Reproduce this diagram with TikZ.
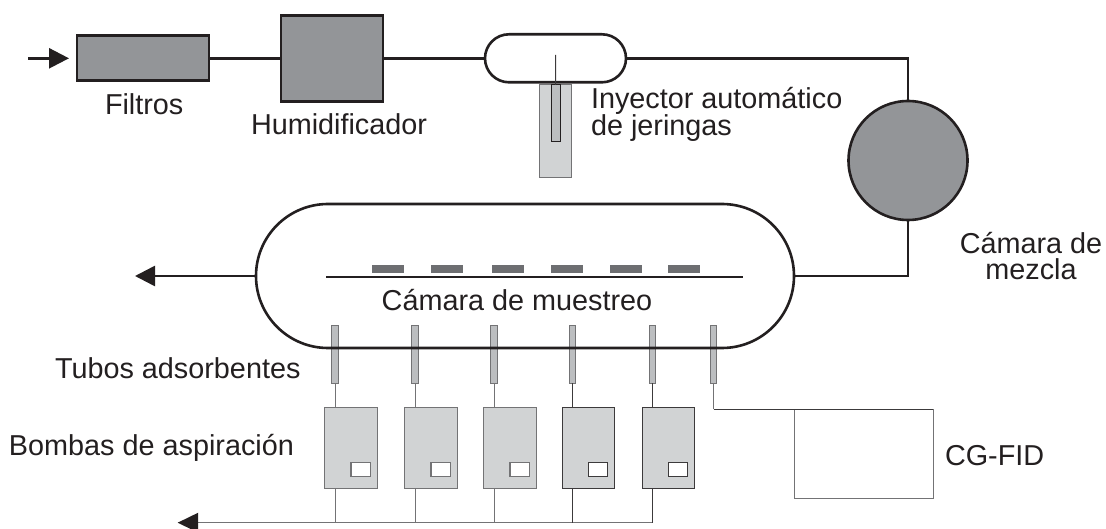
\documentclass[tikz,border=0pt]{standalone}
\usepackage{fontspec}
\setmainfont{Liberation Sans}
\usetikzlibrary{arrows.meta,shapes.misc,calc}
\definecolor{ink}{RGB}{35,31,32}
\definecolor{midgray}{RGB}{147,149,152}
\definecolor{lightgray2}{RGB}{209,211,212}
\definecolor{tubegray}{RGB}{188,190,192}
\definecolor{stripgray}{RGB}{109,110,113}
\definecolor{softline}{RGB}{115,115,117}
\definecolor{darkline}{RGB}{60,58,59}
\tikzset{
  every node/.style={inner sep=0pt,outer sep=0pt},
  lab/.style={anchor=base west,text=ink,font=\fontsize{28.8}{32}\selectfont},
  labc/.style={anchor=base,text=ink,font=\fontsize{28.8}{32}\selectfont},
  heavybox/.style={draw=ink,line width=2.6pt,fill=midgray,rectangle},
  pipe/.style={draw=ink,line width=2.6pt},
  flowarrow/.style={pipe,-{Triangle[length=20pt,width=20pt]}},
  capsule/.style={draw=ink,line width=2.6pt,rounded rectangle},
  strip/.style={fill=stripgray,rectangle,minimum width=32pt,minimum height=8pt},
  tube/.style={draw=softline,line width=1pt,fill=tubegray,rectangle,minimum width=6.4pt,minimum height=57.6pt},
  pump/.style={draw=softline,line width=1.1pt,fill=lightgray2,rectangle,minimum width=52.5pt,minimum height=81pt},
  pumpdark/.style={pump,draw=darkline},
  window/.style={draw=softline,line width=1.1pt,fill=white,rectangle,minimum width=19.3pt,minimum height=14.3pt},
  windowdark/.style={window,draw=darkline},
  thin/.style={draw=softline,line width=1pt},
  thindark/.style={draw=darkline,line width=1pt},
}
\begin{document}
\begin{tikzpicture}[x=1pt,y=-1pt]
\useasboundingbox (0,0) rectangle (1106,529);
% top row
\coordinate (inlet) at (28,58.3);
\node[heavybox,minimum width=132pt,minimum height=45pt] (filter) at (143,58.3) {};
\node[heavybox,minimum width=102pt,minimum height=86pt] (humid) at (332,58.3) {};
\node[capsule,minimum width=141pt,minimum height=48pt] (mixcap) at (555.5,58.3) {};
\node[draw=softline,line width=1pt,fill=lightgray2,rectangle,minimum width=32pt,minimum height=93pt] (syr) at (555.5,131.5) {};
\node[draw=ink,line width=1pt,fill=tubegray,rectangle,minimum width=9pt,minimum height=57pt] (plunger) at (555.5,113.5) {};
\coordinate (needle) at (555.7,55);
\draw[thindark] (needle) -- (plunger.north);
\draw[flowarrow] (inlet) -- ($(filter.west)+(-8,0)$);
\draw[pipe] (filter) -- (humid);
\draw[pipe] (humid.east) -- (mixcap.west);
% mix chamber
\node[heavybox,circle,minimum size=119pt] (mix) at (908,160.5) {};
\draw[pipe] (mixcap.east) -| (mix.north);
% sampling chamber tubes
\foreach \i/\x in {1/335,2/415,3/494,4/572.2,5/652.2,6/713.5}
  \node[tube] (tube\i) at (\x,354.5) {};
\node[capsule,minimum width=538pt,minimum height=144pt] (chamber) at (525,276) {};
\draw[pipe] (chamber.east) -| (mix.south);
\coordinate (outlet) at (135,276);
\draw[flowarrow] (chamber.west) -- (outlet);
\coordinate (plateL) at (326,277);
\coordinate (plateR) at (743,277);
\draw[pipe] (plateL) -- (plateR);
\foreach \i/\x in {1/388,2/447,3/508,4/567,5/626,6/684}
  \node[strip] (strip\i) at (\x,269) {};
% pumps
\node[pump] (pump1) at (351,447.8) {};
\node[pump] (pump2) at (431,447.8) {};
\node[pump] (pump3) at (510,447.8) {};
\node[pumpdark] (pump4) at (588.3,447.8) {};
\node[pumpdark] (pump5) at (668.5,447.8) {};
\node[window] (win1) at (360.6,469.2) {};
\node[window] (win2) at (440.6,469.2) {};
\node[window] (win3) at (519.6,469.2) {};
\node[windowdark] (win4) at (598,469.2) {};
\node[windowdark] (win5) at (678,469.2) {};
\foreach \i in {1,2,3}
  \draw[thin] (tube\i.south) -- (tube\i.south |- pump\i.north);
\foreach \i in {4,5}
  \draw[thindark] (tube\i.south) -- (tube\i.south |- pump\i.north);
% bus
\coordinate (busR) at (653,522.7);
\coordinate (busout) at (177.7,522.7);
\draw[thin] (busR) -- (busout);
\fill[ink] (busout) -- ++(20.5,-10) -- ++(0,20) -- cycle;
\foreach \i in {1,2,3}
  \draw[thin] (tube\i.south |- pump\i.south) -- (tube\i.south |- busR);
\foreach \i in {4,5}
  \draw[thindark] (tube\i.south |- pump\i.south) -- (tube\i.south |- busR);
% GC
\node[draw=softline,line width=1pt,rectangle,minimum width=138.5pt,minimum height=89pt] (gc) at (864,453.8) {};
\draw[thin] (tube6.south) -- (tube6.south |- gc.north);
\draw[thindark] (tube6.south |- gc.north) -- (gc.north east);
% labels
\node[lab] (lfil) at (105,115) {Filtros};
\node[lab] (lhum) at (251,135) {Humidificador};
\node[lab] (liny) at (591,108.5) {Inyector automático};
\node[lab] (ljer) at (591,135.5) {de jeringas};
\node[labc] (lcam) at (1031,253.5) {Cámara de};
\node[labc] (lmez) at (1031,280) {mezcla};
\node[labc] (lmue) at (517,311) {Cámara de muestreo};
\node[lab] (ltub) at (55,378) {Tubos adsorbentes};
\node[lab] (lbom) at (9,455.5) {Bombas de aspiración};
\node[lab] (lcg) at (945,465) {CG-FID};
\end{tikzpicture}
\end{document}
